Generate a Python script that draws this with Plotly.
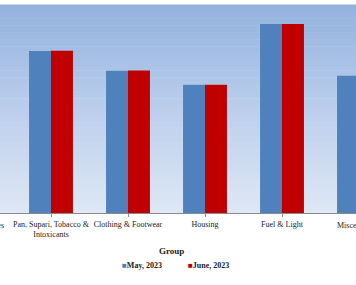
import plotly.graph_objects as go

categories = ["Food & Beverages", "Pan, Supari, Tobacco &<br>Intoxicants", "Clothing & Footwear",
              "Housing", "Fuel & Light", "Miscellaneous"]
may_2023 = [140.0, 155.8, 136.8, 123.4, 181.7, 132.0]
june_2023 = [140.5, 156.0, 136.9, 123.4, 181.7, 132.2]
series_names = ["May, 2023", "June, 2023"]
colors = ["#4f81bd", "#c00000"]

W, H = 356, 285
mt, mb = 5, 72
plot_h = H - mt - mb

idx = list(range(len(categories)))
fig = go.Figure()
fig.add_trace(go.Bar(x=idx, y=may_2023, name=series_names[0], marker_color=colors[0],
                     marker_line_width=0, showlegend=False))
fig.add_trace(go.Bar(x=idx, y=june_2023, name=series_names[1], marker_color=colors[1],
                     marker_line_width=0, showlegend=False))

# gradient background
def lerp(a, b, t):
    return tuple(int(round(a[i] + (b[i] - a[i]) * t)) for i in range(3))
top = (0x93, 0xb2, 0xde)
mid = (0xbb, 0xce, 0xec)
bot = (0xde, 0xe7, 0xf4)
n = 60
shapes = []
for k in range(n):
    t = k / (n - 1)
    c = lerp(top, mid, t * 2) if t < 0.5 else lerp(mid, bot, (t - 0.5) * 2)
    y1 = 1 - k / n
    y0 = 1 - (k + 1) / n
    shapes.append(dict(type="rect", xref="paper", yref="paper", x0=0, x1=1, y0=y0, y1=y1 + 0.002,
                       fillcolor="rgb(%d,%d,%d)" % c, line_width=0, layer="below"))

px_per_cat = 77.0
x0 = 1 - 51 / px_per_cat
x1 = x0 + W / px_per_cat

def px_to_paper_x(px):
    return px / W

def px_to_paper_y(py):
    return (H - mb - py) / plot_h

font_family = "Liberation Serif, Times New Roman, serif"
annotations = [
    dict(text="Food & Beverages", x=px_to_paper_x(-26.5), y=px_to_paper_y(225), xref="paper", yref="paper",
         xanchor="center", yanchor="middle", showarrow=False, font=dict(size=8, color="#222", family=font_family)),
    dict(text="Miscellaneous", x=px_to_paper_x(360), y=px_to_paper_y(225), xref="paper", yref="paper",
         xanchor="center", yanchor="middle", showarrow=False, font=dict(size=8, color="#222", family=font_family)),
    dict(text="<b>Group</b>", x=px_to_paper_x(171), y=px_to_paper_y(251), xref="paper", yref="paper",
         xanchor="center", yanchor="middle", showarrow=False, font=dict(size=9, color="#222", family=font_family)),
    dict(text="<span style='color:%s'>■</span><b>%s</b>" % (colors[0], series_names[0]),
         x=px_to_paper_x(120), y=px_to_paper_y(265), xref="paper", yref="paper",
         xanchor="left", yanchor="middle", showarrow=False, font=dict(size=8, color="#222", family=font_family)),
    dict(text="<span style='color:%s'>■</span><b>%s</b>" % (colors[1], series_names[1]),
         x=px_to_paper_x(186), y=px_to_paper_y(265), xref="paper", yref="paper",
         xanchor="left", yanchor="middle", showarrow=False, font=dict(size=8, color="#222", family=font_family)),
]

fig.update_layout(
    width=W, height=H,
    margin=dict(l=0, r=0, t=mt, b=mb, pad=0),
    paper_bgcolor="white", plot_bgcolor="#dde6f2",
    barmode="group", bargap=0.43, bargroupgap=0,
    shapes=shapes, annotations=annotations,
    font=dict(family=font_family, size=8, color="#222"),
    xaxis=dict(range=[x0, x1], tickmode="array", tickvals=idx, ticktext=categories,
               showline=True, linecolor="#8a8a8a", linewidth=1, ticks="outside", ticklen=3,
               tickcolor="#8a8a8a", tickson="boundaries", showgrid=False, zeroline=False,
               tickfont=dict(size=8, family=font_family, color="#222")),
    yaxis=dict(range=[0, 200], visible=False, showgrid=False, zeroline=False),
)

fig.write_html("out.html")
